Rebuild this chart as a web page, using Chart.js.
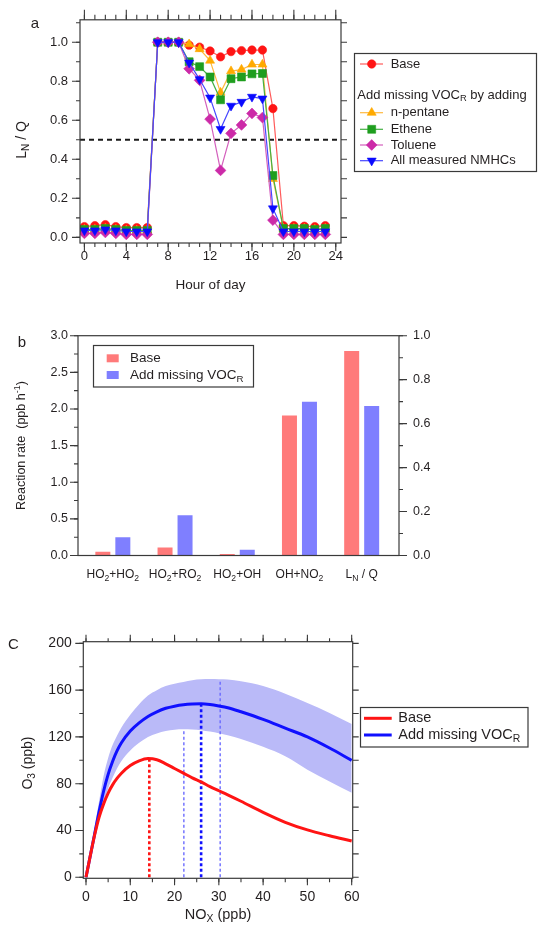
<!DOCTYPE html>
<html>
<head>
<meta charset="utf-8">
<script src="https://cdn.jsdelivr.net/npm/chart.js@4.4.0/dist/chart.umd.min.js"></script>
<style>
  html, body { margin: 0; padding: 0; background: #fff; }
  #page { position: relative; width: 540px; height: 926px; overflow: hidden; background: #fff; }
  canvas { position: absolute; left: 0; }
</style>
</head>
<body>
<div id="page">
  <canvas id="panelA" width="540" height="300" style="top:0px"></canvas>
  <canvas id="panelB" width="540" height="300" style="top:300px"></canvas>
  <canvas id="panelC" width="540" height="326" style="top:600px"></canvas>
</div>
<script>
// ---------- panel a: L_N / Q by hour of day ----------
const hours = [0, 1, 2, 3, 4, 5, 6, 7, 8, 9, 10, 11, 12, 13, 14, 15, 16, 17, 18, 19, 20, 21, 22, 23];
const lnqBase    = [0.055, 0.06, 0.065, 0.055, 0.05, 0.05, 0.05, 1.0, 1.0, 1.0, 0.985, 0.975, 0.955, 0.925, 0.952, 0.957, 0.96, 0.96, 0.66, 0.06, 0.06, 0.057, 0.055, 0.06];
const lnqPentane = [0.04, 0.04, 0.045, 0.04, 0.035, 0.035, 0.035, 1.0, 1.0, 1.0, 0.99, 0.965, 0.906, 0.742, 0.852, 0.86, 0.886, 0.886, 0.30, 0.045, 0.045, 0.045, 0.04, 0.045];
const lnqEthene  = [0.04, 0.04, 0.045, 0.04, 0.035, 0.035, 0.035, 1.0, 1.0, 1.0, 0.9, 0.875, 0.822, 0.705, 0.813, 0.822, 0.838, 0.84, 0.317, 0.045, 0.045, 0.045, 0.04, 0.045];
const lnqToluene = [0.02, 0.02, 0.025, 0.02, 0.015, 0.015, 0.015, 1.0, 1.0, 1.0, 0.864, 0.805, 0.606, 0.343, 0.533, 0.576, 0.635, 0.614, 0.088, 0.015, 0.015, 0.015, 0.015, 0.015];
const lnqNmhc    = [0.035, 0.035, 0.04, 0.035, 0.03, 0.03, 0.03, 1.0, 1.0, 1.0, 0.895, 0.81, 0.716, 0.555, 0.674, 0.694, 0.72, 0.711, 0.148, 0.03, 0.03, 0.03, 0.03, 0.03];
const seriesNames = ['Base', 'n-pentane', 'Ethene', 'Toluene', 'All measured NMHCs'];
const hourTicks = [0, 4, 8, 12, 16, 20, 24];
const lnqThreshold = 0.5;

// ---------- panel b: reaction rates ----------
const reactions = ['HO_2+HO_2', 'HO_2+RO_2', 'HO_2+OH', 'OH+NO_2', 'L_N / Q'];
const rateBase = [0.05, 0.11, 0.02, 1.91, null];
const rateAdd  = [0.25, 0.55, 0.08, 2.10, null];
const ratioBase = [null, null, null, null, 0.93];
const ratioAdd  = [null, null, null, null, 0.68];

// ---------- panel c: O3 vs NOx ----------
const nox = [0, 1, 2, 3, 4, 5, 6, 7, 8, 10, 12, 14, 16, 18, 20, 22, 24, 26, 28, 30, 32, 35, 40, 45, 50, 55, 60];
const o3Base  = [0, 19, 37, 52, 63, 72, 79, 84.5, 89, 95.5, 99.5, 101.5, 100.5, 97, 93, 89, 85, 81.5, 77.5, 74, 70.5, 65, 55.5, 47, 40.5, 35.5, 31];
const o3Add   = [0, 19, 38, 57, 74, 88, 99, 108, 115, 125, 132, 137.5, 141.5, 144.5, 146.3, 147.5, 148.1, 148.3, 147.7, 146.5, 145, 141.5, 135, 127.5, 120, 110.5, 100];
const o3AddHi = [0, 22, 44, 66, 87, 102, 113, 121, 128, 139, 148, 155.5, 160, 163.5, 165.5, 167, 168.5, 169.2, 169.5, 169.3, 169, 167.5, 163.5, 157, 149, 140.5, 131];
const o3AddLo = [0, 17, 34, 50, 64, 76, 85, 93, 99.5, 108.5, 115, 120, 123, 125, 126.2, 126.6, 126.4, 125.8, 124.6, 123.2, 121.5, 118.3, 111.5, 103.5, 92, 82, 72.3];
const peakNox = [14.3, 22.1, 26.0, 30.3];
const peakO3  = [101.5, 126.6, 148.3, 169.4];

const FONT = '"Liberation Sans", Arial, Helvetica, sans-serif';
const INK = '#231f20';
Chart.defaults.font.family = FONT;
Chart.defaults.color = INK;

// text with _x / _{..} subscripts and ^{..} superscripts
function parseRich(str) {
  const out = [];
  let i = 0, buf = '';
  while (i < str.length) {
    const c = str[i];
    if ((c === '_' || c === '^') && i + 1 < str.length) {
      if (buf) { out.push({ t: buf, k: 0 }); buf = ''; }
      let t;
      if (str[i + 1] === '{') { const j = str.indexOf('}', i + 2); t = str.slice(i + 2, j); i = j + 1; }
      else { t = str[i + 1]; i += 2; }
      out.push({ t, k: c === '_' ? 1 : -1 });
    } else { buf += c; i++; }
  }
  if (buf) out.push({ t: buf, k: 0 });
  return out;
}

function richText(ctx, str, x, y, size, opts = {}) {
  const parts = parseRich(str);
  const fontFor = k => (k ? size * 0.72 : size) + 'px ' + FONT;
  ctx.save();
  ctx.fillStyle = opts.color || INK;
  ctx.textBaseline = 'middle';
  ctx.textAlign = 'left';
  let w = 0;
  parts.forEach(p => { ctx.font = fontFor(p.k); p.w = ctx.measureText(p.t).width; w += p.w; });
  ctx.translate(x, y);
  if (opts.rotate) ctx.rotate(opts.rotate);
  let cx = opts.align === 'center' ? -w / 2 : opts.align === 'right' ? -w : 0;
  parts.forEach(p => {
    ctx.font = fontFor(p.k);
    ctx.fillText(p.t, cx, p.k > 0 ? size * 0.3 : p.k < 0 ? -size * 0.38 : 0);
    cx += p.w;
  });
  ctx.restore();
}

function drawFrame(chart) {
  const { ctx, chartArea: a } = chart;
  ctx.save();
  ctx.strokeStyle = '#3a3a3a';
  ctx.lineWidth = 1.2;
  ctx.strokeRect(a.left, a.top, a.right - a.left, a.bottom - a.top);
  ctx.restore();
}

// tick marks outside the frame, from the chart's own scale
function marks(chart, id, side, step, len) {
  const { ctx, chartArea: a } = chart;
  const s = chart.scales[id];
  ctx.save();
  ctx.strokeStyle = '#3a3a3a';
  ctx.lineWidth = 1.1;
  ctx.beginPath();
  for (let k = Math.ceil(s.min / step - 1e-6); k * step <= s.max + 1e-6; k++) {
    const p = s.getPixelForValue(k * step);
    if (side === 'bottom') { ctx.moveTo(p, a.bottom); ctx.lineTo(p, a.bottom + len); }
    if (side === 'top') { ctx.moveTo(p, a.top); ctx.lineTo(p, a.top - len); }
    if (side === 'left') { ctx.moveTo(a.left, p); ctx.lineTo(a.left - len, p); }
    if (side === 'right') { ctx.moveTo(a.right, p); ctx.lineTo(a.right + len, p); }
  }
  ctx.stroke();
  ctx.restore();
}

function legendBox(ctx, x, y, w, h) {
  ctx.save();
  ctx.strokeStyle = '#3a3a3a';
  ctx.lineWidth = 1.2;
  ctx.strokeRect(x, y, w, h);
  ctx.restore();
}

const noGrid = { display: false, drawTicks: false };
const noBorder = { display: false };

// ---------- panel a chart ----------
const styleA = [
  { color: '#ff1414', line: 'rgba(255,50,50,0.8)', shape: 'circle', rot: 0, r: 4.2 },
  { color: '#ffaa00', line: '#ffb940', shape: 'triangle', rot: 0, r: 5.2 },
  { color: '#1f9e1f', line: '#45b045', shape: 'rect', rot: 0, r: 5.6 },
  { color: '#cc2aa8', line: '#d460bd', shape: 'rectRot', rot: 0, r: 5.4 },
  { color: '#0a0aff', line: '#4646ff', shape: 'triangle', rot: 180, r: 5.2 }
];
const valuesA = [lnqBase, lnqPentane, lnqEthene, lnqToluene, lnqNmhc];

new Chart(document.getElementById('panelA'), {
  type: 'line',
  data: {
    datasets: valuesA.map((vals, k) => ({
      label: seriesNames[k],
      data: hours.map((h, i) => ({ x: h, y: vals[i] })),
      borderColor: styleA[k].line,
      borderWidth: 1.2,
      pointStyle: styleA[k].shape,
      pointRotation: styleA[k].rot,
      pointRadius: styleA[k].r,
      pointBackgroundColor: styleA[k].color,
      pointBorderColor: styleA[k].color,
      pointBorderWidth: 0.6,
      order: 5 - k
    }))
  },
  options: {
    responsive: false,
    animation: false,
    devicePixelRatio: 1,
    layout: { padding: { top: 18.5, right: 199, left: 0, bottom: 0 } },
    plugins: { legend: { display: false }, tooltip: { enabled: false } },
    scales: {
      x: {
        type: 'linear', min: -0.42, max: 24.5,
        afterFit: s => { s.height = 57; },
        afterBuildTicks: s => { s.ticks = hourTicks.map(v => ({ value: v })); },
        ticks: { font: { size: 13 }, padding: 6, color: INK },
        grid: noGrid, border: noBorder
      },
      y: {
        min: -0.029, max: 1.115,
        afterFit: s => { s.width = 80; },
        ticks: { stepSize: 0.2, includeBounds: false, font: { size: 13 }, padding: 12, color: INK,
                 callback: v => v.toFixed(1) },
        grid: noGrid, border: noBorder
      }
    }
  },
  plugins: [{
    id: 'panelAExtras',
    beforeDatasetsDraw(chart) {
      const { ctx, chartArea: a, scales: { y } } = chart;
      const py = y.getPixelForValue(lnqThreshold);
      ctx.save();
      ctx.setLineDash([5, 4]);
      ctx.lineWidth = 2;
      ctx.strokeStyle = '#1a1a1a';
      ctx.beginPath(); ctx.moveTo(a.left, py); ctx.lineTo(a.right, py); ctx.stroke();
      ctx.restore();
    },
    afterDraw(chart) {
      const { ctx, chartArea: a } = chart;
      drawFrame(chart);
      marks(chart, 'x', 'bottom', 4, 8); marks(chart, 'x', 'bottom', 1, 4);
      marks(chart, 'x', 'top', 4, 10); marks(chart, 'x', 'top', 1, 5);
      marks(chart, 'y', 'left', 0.2, 8); marks(chart, 'y', 'left', 0.1, 4);
      marks(chart, 'y', 'right', 0.1, 6);
      richText(ctx, 'a', 35, 24, 15, { align: 'center' });
      richText(ctx, 'L_N / Q', 22, 140, 14, { align: 'center', rotate: -Math.PI / 2 });
      richText(ctx, 'Hour of day', (a.left + a.right) / 2, 285, 13.5, { align: 'center' });

      // legend
      legendBox(ctx, 354.5, 53.5, 182, 118);
      const rowY = [64, 112.7, 129.3, 145, 160.7];
      chart.data.datasets.forEach((ds, k) => {
        const y = rowY[k];
        ctx.save();
        ctx.strokeStyle = ds.borderColor; ctx.lineWidth = 1.2;
        ctx.beginPath(); ctx.moveTo(360, y); ctx.lineTo(383, y); ctx.stroke();
        ctx.fillStyle = ds.pointBackgroundColor; ctx.strokeStyle = ds.pointBorderColor; ctx.lineWidth = 0.6;
        Chart.helpers.drawPoint(ctx, { pointStyle: ds.pointStyle, radius: ds.pointRadius,
          rotation: ds.pointRotation, borderWidth: 0.6 }, 371.7, y);
        ctx.restore();
        richText(ctx, ds.label, 390.7, y, 13);
      });
      richText(ctx, 'Add missing VOC_R by adding', 357.3, 95, 13);
    }
  }]
});

// ---------- panel b chart ----------
const baseFill = '#ff7a7a';
const addFill = '#7f7fff';
const barData = vals => reactions.map((r, i) => ({ x: i, y: vals[i] }));

new Chart(document.getElementById('panelB'), {
  type: 'bar',
  data: {
    datasets: [
      { label: 'Base', data: barData(rateBase), backgroundColor: baseFill, yAxisID: 'y' },
      { label: 'Add missing VOC_R', data: barData(rateAdd), backgroundColor: addFill, yAxisID: 'y' },
      { label: 'Base', data: barData(ratioBase), backgroundColor: baseFill, yAxisID: 'y2' },
      { label: 'Add missing VOC_R', data: barData(ratioAdd), backgroundColor: addFill, yAxisID: 'y2' }
    ]
  },
  options: {
    responsive: false,
    animation: false,
    devicePixelRatio: 1,
    skipNull: true,
    categoryPercentage: 0.643,
    barPercentage: 0.75,
    layout: { padding: { top: 35.7, right: 0, left: 0, bottom: 0 } },
    plugins: { legend: { display: false }, tooltip: { enabled: false } },
    scales: {
      x: {
        type: 'linear', min: -0.56, max: 4.6, offset: false,
        afterFit: s => { s.height = 44.5; },
        ticks: { stepSize: 1, includeBounds: false, display: false },
        grid: noGrid, border: noBorder
      },
      y: {
        position: 'left', min: 0, max: 3,
        afterFit: s => { s.width = 78; },
        ticks: { stepSize: 0.5, font: { size: 12.5 }, padding: 10, color: INK, callback: v => v.toFixed(1) },
        grid: noGrid, border: noBorder
      },
      y2: {
        position: 'right', min: 0, max: 1,
        afterFit: s => { s.width = 141; },
        ticks: { stepSize: 0.2, font: { size: 12.5 }, padding: 14, color: INK, callback: v => v.toFixed(1) },
        grid: noGrid, border: noBorder
      }
    }
  },
  plugins: [{
    id: 'panelBExtras',
    afterDraw(chart) {
      const { ctx, chartArea: a, scales: { x } } = chart;
      drawFrame(chart);
      marks(chart, 'y', 'left', 0.5, 8); marks(chart, 'y', 'left', 0.25, 4);
      marks(chart, 'y2', 'right', 0.2, 8); marks(chart, 'y2', 'right', 0.1, 4);
      reactions.forEach((r, i) => richText(ctx, r, x.getPixelForValue(i), a.bottom + 19.5, 12, { align: 'center' }));
      richText(ctx, 'b', 22, 43, 15, { align: 'center' });
      richText(ctx, 'Reaction rate  (ppb h^{-1})', 22, (a.top + a.bottom) / 2, 12.5, { align: 'center', rotate: -Math.PI / 2 });

      legendBox(ctx, 93.5, 45.5, 160, 41.5);
      [0, 1].forEach(k => {
        const ds = chart.data.datasets[k];
        const y = k === 0 ? 58.3 : 75;
        ctx.save(); ctx.fillStyle = ds.backgroundColor; ctx.fillRect(106.7, y - 4, 12, 8); ctx.restore();
        richText(ctx, ds.label, 130, y, 13.5);
      });
    }
  }]
});

// ---------- panel c chart ----------
const curve = vals => nox.map((v, i) => ({ x: v, y: vals[i] }));
const peakStyle = [
  { color: '#ff1414', width: 2.6, dash: [3, 2.5] },
  { color: '#6a6aff', width: 1.4, dash: [3, 2.5] },
  { color: '#1010ff', width: 2.6, dash: [3, 2.5] },
  { color: '#6a6aff', width: 1.4, dash: [3, 2.5] }
];

new Chart(document.getElementById('panelC'), {
  type: 'line',
  data: {
    datasets: [
      { label: 'Base', data: curve(o3Base), borderColor: '#ff1414', borderWidth: 3, order: 1 },
      { label: 'Add missing VOC_R', data: curve(o3Add), borderColor: '#1010ff', borderWidth: 3, order: 1 },
      { label: 'upper', data: curve(o3AddHi), borderColor: 'transparent', borderWidth: 0,
        backgroundColor: '#babaf8', fill: '+1', order: 10 },
      { label: 'lower', data: curve(o3AddLo), borderColor: 'transparent', borderWidth: 0, order: 10 },
      ...peakNox.map((p, i) => ({
        label: 'peak', data: [{ x: p, y: 0 }, { x: p, y: peakO3[i] }],
        borderColor: peakStyle[i].color, borderWidth: peakStyle[i].width, borderDash: peakStyle[i].dash,
        cubicInterpolationMode: 'default', tension: 0, order: 5
      }))
    ]
  },
  options: {
    responsive: false,
    animation: false,
    devicePixelRatio: 1,
    cubicInterpolationMode: 'monotone',
    elements: { point: { radius: 0 }, line: { cubicInterpolationMode: 'monotone' } },
    layout: { padding: { top: 41.7, right: 187.3, left: 0, bottom: 0 } },
    plugins: { legend: { display: false }, tooltip: { enabled: false }, filler: { propagate: false } },
    scales: {
      x: {
        type: 'linear', min: -0.61, max: 60.23,
        afterFit: s => { s.height = 47.7; },
        ticks: { stepSize: 10, includeBounds: false, font: { size: 14 }, padding: 10, color: INK },
        grid: noGrid, border: noBorder
      },
      y: {
        min: -0.85, max: 201.4,
        afterFit: s => { s.width = 83.3; },
        ticks: { stepSize: 40, includeBounds: false, font: { size: 14 }, padding: 11.6, color: INK },
        grid: noGrid, border: noBorder
      }
    }
  },
  plugins: [{
    id: 'panelCExtras',
    afterDraw(chart) {
      const { ctx, chartArea: a } = chart;
      drawFrame(chart);
      marks(chart, 'x', 'bottom', 10, 7); marks(chart, 'x', 'bottom', 5, 4);
      marks(chart, 'x', 'top', 10, 7); marks(chart, 'x', 'top', 5, 3.5);
      marks(chart, 'y', 'left', 40, 8); marks(chart, 'y', 'left', 20, 4);
      marks(chart, 'y', 'right', 20, 6);
      richText(ctx, 'C', 13.3, 45, 15, { align: 'center' });
      richText(ctx, 'O_3 (ppb)', 28.3, (a.top + a.bottom) / 2 + 3, 14, { align: 'center', rotate: -Math.PI / 2 });
      richText(ctx, 'NO_X (ppb)', (a.left + a.right) / 2, 315, 14.5, { align: 'center' });

      legendBox(ctx, 360.5, 107.5, 167.5, 39.5);
      [0, 1].forEach(k => {
        const ds = chart.data.datasets[k];
        const y = k === 0 ? 118.3 : 135;
        ctx.save();
        ctx.strokeStyle = ds.borderColor; ctx.lineWidth = 3;
        ctx.beginPath(); ctx.moveTo(364, y); ctx.lineTo(391.7, y); ctx.stroke();
        ctx.restore();
        richText(ctx, ds.label, 398.3, y, 14.5);
      });
    }
  }]
});
</script>
</body>
</html>
